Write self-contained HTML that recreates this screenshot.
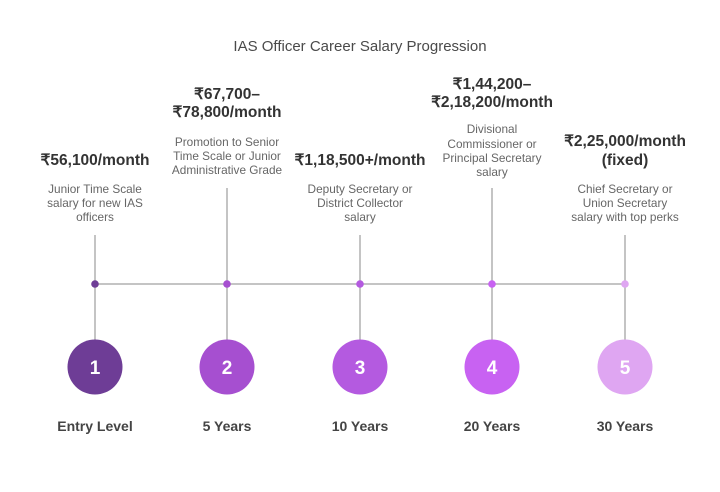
<!DOCTYPE html>
<html><head><meta charset="utf-8">
<style>
html,body{margin:0;padding:0;background:#fff;}
#c{position:relative;width:720px;height:492px;overflow:hidden;font-family:"Liberation Sans",Arial,sans-serif;}
.t{position:absolute;width:240px;text-align:center;white-space:nowrap;}
.h{font-weight:bold;font-size:15.5px;color:#333;height:18px;line-height:18px;}
.d{font-size:11.8px;color:#666;height:14px;line-height:14px;}
.b{font-weight:bold;font-size:14px;color:#444;height:18px;line-height:18px;}
</style></head><body><div id="c">
<svg width="720" height="492" style="position:absolute;left:0;top:0">
<g stroke="#c4c4c4" stroke-width="2" fill="none">
<line x1="95" y1="284" x2="625" y2="284"/>
<line x1="95" y1="235" x2="95" y2="340"/>
<line x1="227" y1="188" x2="227" y2="340"/>
<line x1="360" y1="235" x2="360" y2="340"/>
<line x1="492" y1="188" x2="492" y2="340"/>
<line x1="625" y1="235" x2="625" y2="340"/>
</g>
<circle cx="95" cy="284" r="3.8" fill="#6e3d96"/>
<circle cx="227" cy="284" r="3.8" fill="#a64fd0"/>
<circle cx="360" cy="284" r="3.8" fill="#b45ae0"/>
<circle cx="492" cy="284" r="3.8" fill="#c862f2"/>
<circle cx="625" cy="284" r="3.8" fill="#dfa6f2"/>
<circle cx="95" cy="367" r="27.5" fill="#6e3d96"/>
<circle cx="227" cy="367" r="27.5" fill="#a64fd0"/>
<circle cx="360" cy="367" r="27.5" fill="#b45ae0"/>
<circle cx="492" cy="367" r="27.5" fill="#c862f2"/>
<circle cx="625" cy="367" r="27.5" fill="#dfa6f2"/>
<g font-family="Liberation Sans, Arial, sans-serif" font-weight="bold" font-size="19" fill="#fff" text-anchor="middle">
<text x="95" y="373.8">1</text>
<text x="227" y="373.8">2</text>
<text x="360" y="373.8">3</text>
<text x="492" y="373.8">4</text>
<text x="625" y="373.8">5</text>
</g>
</svg>

<div class="t" style="left:200px;width:320px;top:38px;font-size:15px;color:#4a4a4a;line-height:18px;">IAS Officer Career Salary Progression</div>

<!-- col1 -->
<div class="t h" style="left:-25px;top:152px">₹56,100/month</div>
<div class="t d" style="left:-25px;top:182px">Junior Time Scale</div>
<div class="t d" style="left:-25px;top:196px">salary for new IAS</div>
<div class="t d" style="left:-25px;top:210px">officers</div>

<!-- col2 -->
<div class="t h" style="left:107px;top:86px">₹67,700–</div>
<div class="t h" style="left:107px;top:104px">₹78,800/month</div>
<div class="t d" style="left:107px;top:135px">Promotion to Senior</div>
<div class="t d" style="left:107px;top:149px">Time Scale or Junior</div>
<div class="t d" style="left:107px;top:163px">Administrative Grade</div>

<!-- col3 -->
<div class="t h" style="left:240px;top:152px">₹1,18,500+/month</div>
<div class="t d" style="left:240px;top:182px">Deputy Secretary or</div>
<div class="t d" style="left:240px;top:196px">District Collector</div>
<div class="t d" style="left:240px;top:210px">salary</div>

<!-- col4 -->
<div class="t h" style="left:372px;top:76px">₹1,44,200–</div>
<div class="t h" style="left:372px;top:94px">₹2,18,200/month</div>
<div class="t d" style="left:372px;top:122px">Divisional</div>
<div class="t d" style="left:372px;top:137px">Commissioner or</div>
<div class="t d" style="left:372px;top:151px">Principal Secretary</div>
<div class="t d" style="left:372px;top:165px">salary</div>

<!-- col5 -->
<div class="t h" style="left:505px;top:133px">₹2,25,000/month</div>
<div class="t h" style="left:505px;top:152px">(fixed)</div>
<div class="t d" style="left:505px;top:182px">Chief Secretary or</div>
<div class="t d" style="left:505px;top:196px">Union Secretary</div>
<div class="t d" style="left:505px;top:210px">salary with top perks</div>

<!-- bottom labels -->
<div class="t b" style="left:-25px;top:417px">Entry Level</div>
<div class="t b" style="left:107px;top:417px">5 Years</div>
<div class="t b" style="left:240px;top:417px">10 Years</div>
<div class="t b" style="left:372px;top:417px">20 Years</div>
<div class="t b" style="left:505px;top:417px">30 Years</div>
</div></body></html>
